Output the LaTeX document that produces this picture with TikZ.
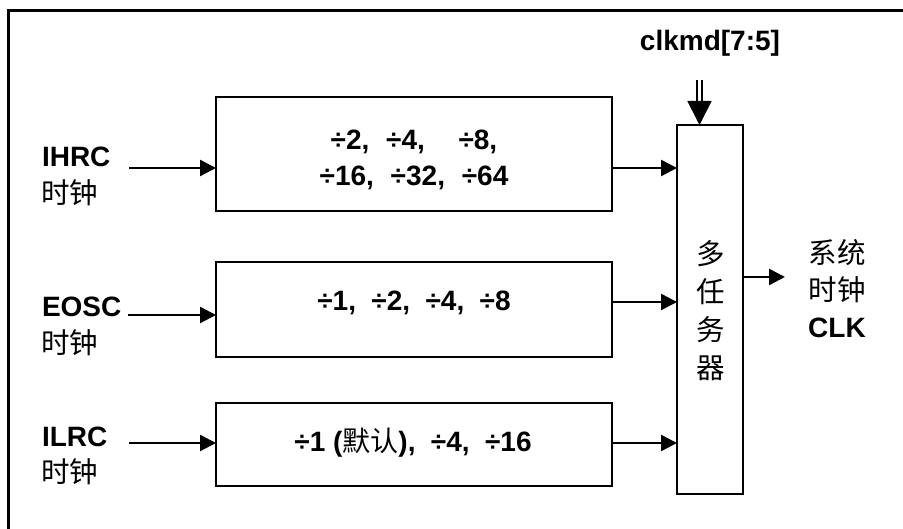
\documentclass[tikz,border=0pt]{standalone}
\usepackage{fontspec}
\setmainfont{Liberation Sans}
\newfontfamily\cjk{Noto Sans CJK SC}
\usetikzlibrary{arrows.meta}
\begin{document}
\begin{tikzpicture}[x=1pt,y=-1pt,
  every node/.style={inner sep=0pt, outer sep=0pt},
  lat/.style={font=\fontsize{28}{36}\selectfont\bfseries},
  zh/.style={font=\fontsize{28.5}{36}\selectfont\cjk},
  divbox/.style={draw, line width=2.6pt, minimum width=396pt},
  divtext/.style={align=center, font=\fontsize{28}{36}\selectfont\bfseries},
  muxbox/.style={draw, line width=2.6pt, minimum width=66pt, minimum height=369pt},
  arr/.style={line width=2.4pt, -{Triangle[length=16pt, width=16pt]}},
  dbl/.style={line width=1.8pt, double, double distance=3pt,
    -{Triangle[length=24pt, width=24pt]}}]
\useasboundingbox (0,0) rectangle (903,529);
\clip (0,0) rectangle (903,529);
\fill[white] (0,0) rectangle (903,529);
% outer frame (cut by the page on right and bottom)
\draw[line width=3pt] (8.5,560) |- (940,11);

% divider boxes
\node[divbox, minimum height=114pt] (b1) at (414,154) {};
\node[divtext] (b1t) at (414,160)
  {\mbox{÷2,\hspace{0.6em}÷4,\hspace{1.2em}÷8,}\\\mbox{÷16,\hspace{0.6em}÷32,\hspace{0.6em}÷64}};
\node[divbox, minimum height=95pt] (b2) at (414,309.5) {};
\node[divtext] (b2t) at (414,303)
  {÷1,\hspace{0.55em}÷2,\hspace{0.55em}÷4,\hspace{0.55em}÷8};
\node[divbox, minimum height=83pt] (b3) at (414,444.5) {};
\node[divtext] (b3t) at (413,443)
  {÷1 ({\mdseries\cjk 默认}),\hspace{0.55em}÷4,\hspace{0.55em}÷16};

% multiplexer
\node[muxbox] (mux) at (710,309.5) {};
\node[font=\fontsize{28.5}{38}\selectfont\cjk, align=center] (muxt) at (711,310.5)
  {多\\任\\务\\器};

% input labels
\node[lat, anchor=west] (l1) at (42,157) {IHRC};
\node[zh, anchor=west] (l1z) at (41,193) {时钟};
\node[lat, anchor=west] (l2) at (42,307) {EOSC};
\node[zh, anchor=west] (l2z) at (41,343) {时钟};
\node[lat, anchor=west] (l3) at (42,437) {ILRC};
\node[zh, anchor=west] (l3z) at (41,472) {时钟};

\coordinate (a1) at (129,168);
\coordinate (a2) at (128,315);
\coordinate (a3) at (129,443);
\draw[arr] (a1) -- (a1 -| b1.west);
\draw[arr] (a2) -- (a2 -| b2.west);
\draw[arr] (a3) -- (a3 -| b3.west);

% box outputs to mux
\coordinate (o1) at (612,168);
\coordinate (o2) at (612,302);
\coordinate (o3) at (612,443);
\draw[arr] (o1 -| b1.east) -- (o1 -| mux.west);
\draw[arr] (o2 -| b2.east) -- (o2 -| mux.west);
\draw[arr] (o3 -| b3.east) -- (o3 -| mux.west);

% control input
\node[lat] (clk) at (710,43) {clkmd[7:5]};
\coordinate (cin) at (699.5,80);
\draw[dbl] (cin) -- (cin |- mux.north);

% output
\coordinate (out) at (785,277);
\draw[arr] (out -| mux.east) -- (out);
\node[zh, align=center, font=\fontsize{28.5}{37}\selectfont\cjk] (sys) at (837,289)
  {系统\\时钟\\{\fontsize{28}{37}\selectfont\normalfont\bfseries CLK}};
\end{tikzpicture}
\end{document}
